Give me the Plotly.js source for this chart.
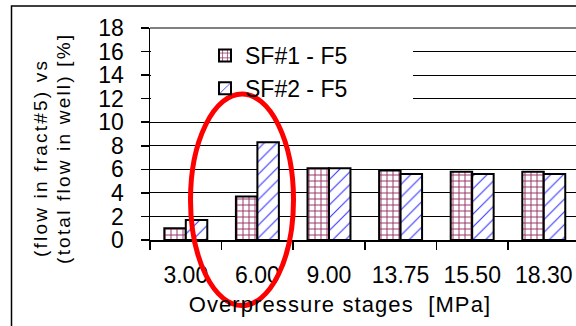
<!DOCTYPE html>
<html>
<head>
<meta charset="utf-8">
<script src="https://cdn.plot.ly/plotly-3.0.1.min.js"></script>
<style>
  html, body { margin: 0; padding: 0; background: #fff; overflow: hidden; }
  #chart { width: 576px; height: 326px; }
  /* widely tracked axis captions */
  #chart g.annotation[data-index="0"] text { letter-spacing: 1.1px; }
  #chart g.annotation[data-index="1"] text,
  #chart g.annotation[data-index="2"] text { letter-spacing: 2.2px; }
</style>
</head>
<body>
<div id="chart"></div>
<script>
// Overpressure stages [MPa]
const stages = ['3.00', '6.00', '9.00', '13.75', '15.50', '18.30'];
// Share of well flow entering fracture #5 [%]
const sf1F5 = [1.0, 3.7, 6.1, 5.9, 5.8, 5.8];
const sf2F5 = [1.7, 8.3, 6.1, 5.6, 5.6, 5.6];
const seriesNames = ['SF#1 - F5', 'SF#2 - F5'];

const FONT = 'Liberation Sans, Arial, sans-serif';

// plot area in pixels
const L = 150, R = 576, T = 28, B = 240;
const px = x => (x - L) / (R - L);
const py = y => (B - y) / (B - T);

const traces = [
  {
    type: 'bar', name: seriesNames[0], x: stages, y: sf1F5,
    marker: {
      color: '#ffffff',
      line: { color: '#000000', width: 2 },
      pattern: { shape: '+', fgcolor: '#993366', bgcolor: '#ffffff', size: 6, solidity: 0.3 }
    }
  },
  {
    type: 'bar', name: seriesNames[1], x: stages, y: sf2F5,
    marker: {
      color: '#ffffff',
      line: { color: '#000000', width: 2 },
      pattern: { shape: '/', fgcolor: '#3333ff', bgcolor: '#ffffff', size: 9, solidity: 0.12 }
    }
  }
];

const layout = {
  width: 576, height: 326,
  margin: { l: L, r: 576 - R, t: T, b: 326 - B, pad: 0 },
  paper_bgcolor: '#ffffff', plot_bgcolor: '#ffffff',
  font: { family: FONT, size: 23, color: '#000000' },
  barmode: 'group', bargap: 0.4, bargroupgap: 0,
  showlegend: true,
  legend: {
    x: px(205), y: py(34), xanchor: 'left', yanchor: 'top',
    bgcolor: 'rgba(0,0,0,0)', borderwidth: 0,
    font: { family: FONT, size: 23, color: '#000000' },
    traceorder: 'normal', itemwidth: 30, tracegroupgap: 0
  },
  xaxis: {
    type: 'category', range: [-0.5, 5.45],
    showline: true, linecolor: '#000000', linewidth: 1.5,
    ticks: 'outside', tickson: 'boundaries', ticklen: 8, tickcolor: '#000000', tickwidth: 1.5,
    showgrid: false, zeroline: false, ticklabelstandoff: 14,
    tickfont: { family: FONT, size: 23, color: '#000000' }
  },
  yaxis: {
    range: [0, 18], dtick: 2, tick0: 0,
    showline: true, linecolor: '#000000', linewidth: 1.5,
    ticks: 'outside', ticklen: 8, tickcolor: '#000000', tickwidth: 1.5,
    showgrid: true, gridcolor: '#000000', gridwidth: 1,
    zeroline: false, ticklabelstandoff: 12,
    tickfont: { family: FONT, size: 23, color: '#000000' }
  },
  shapes: [
    // legend backdrop hiding the upper gridlines
    { type: 'rect', xref: 'paper', yref: 'paper', layer: 'above',
      x0: px(151), x1: px(413), y0: py(110), y1: py(34),
      fillcolor: '#ffffff', line: { width: 0 } },
    // top edge of plot area
    { type: 'line', xref: 'paper', yref: 'paper', layer: 'above',
      x0: 0, x1: 1, y0: 1, y1: 1, line: { color: '#808080', width: 2 } },
    // chart frame
    { type: 'rect', xref: 'paper', yref: 'paper', layer: 'above',
      x0: px(11.5), x1: px(700), y0: py(500), y1: py(6),
      fillcolor: 'rgba(0,0,0,0)', line: { color: '#000000', width: 1.5 } },
    // highlight around the 6.00 MPa stage
    { type: 'circle', xref: 'paper', yref: 'paper', layer: 'above',
      x0: px(190.5), x1: px(293.5), y0: py(305.5), y1: py(94),
      fillcolor: 'rgba(0,0,0,0)', line: { color: '#ff0000', width: 5 } }
  ],
  annotations: [
    { xref: 'paper', yref: 'paper', x: px(340), y: py(304),
      xanchor: 'center', yanchor: 'middle', showarrow: false,
      text: 'Overpressure stages  [MPa]',
      font: { family: FONT, size: 22, color: '#000000' } },
    { xref: 'paper', yref: 'paper', x: px(40.5), y: py(158.5),
      xanchor: 'center', yanchor: 'middle', showarrow: false, textangle: -90,
      text: '(flow in fract#5) vs',
      font: { family: FONT, size: 19, color: '#000000' } },
    { xref: 'paper', yref: 'paper', x: px(62.5), y: py(149),
      xanchor: 'center', yanchor: 'middle', showarrow: false, textangle: -90,
      text: '(total flow in well) [%]',
      font: { family: FONT, size: 19, color: '#000000' } }
  ]
};

Plotly.newPlot('chart', traces, layout, { displayModeBar: false, staticPlot: true });
</script>
</body>
</html>
